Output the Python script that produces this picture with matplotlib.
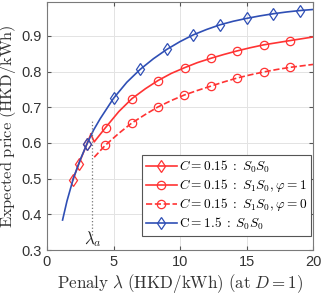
import matplotlib
matplotlib.use("Agg")
import matplotlib.pyplot as plt
import numpy as np

plt.rcParams['mathtext.fontset'] = 'cm'
plt.rcParams['font.family'] = ['Liberation Sans', 'DejaVu Sans']

# C=1.5 : S0S0 (blue)
blue_x = [1.17, 1.5, 2.0, 2.5, 3.0, 3.5, 4.0, 5.0, 6.0, 7.0, 8.0, 9.0, 10.0, 11.0,
          12.0, 13.0, 14.0, 15.0, 16.0, 17.0, 18.0, 19.0, 20.0]
blue_y = [0.384, 0.437, 0.503, 0.553, 0.597, 0.636, 0.668, 0.725, 0.770, 0.806, 0.836,
          0.862, 0.884, 0.903, 0.918, 0.931, 0.941, 0.949, 0.956, 0.962, 0.967, 0.971, 0.974]
blue_mk = [3.0, 5.0, 7.0, 9.0, 11.0, 13.0, 15.0, 17.0, 19.0]

# C=0.15 : S0S0 (red, diamonds)
s00_x = [1.93, 2.4, 3.0, 3.3]
s00_y = [0.495, 0.542, 0.597, 0.625]
s00_mk = [1.93, 2.4, 3.0]

# C=0.15 : S1S0, phi=1 (red solid, circles)
p1_x = [3.3, 3.55, 4.4, 5.4, 6.38, 7.4, 8.35, 9.35, 10.35, 11.3, 12.3, 13.3, 14.3,
        15.3, 16.3, 17.3, 18.3, 20.0]
p1_y = [0.625, 0.603, 0.643, 0.688, 0.724, 0.752, 0.775, 0.795, 0.811, 0.825, 0.837,
        0.848, 0.858, 0.867, 0.875, 0.881, 0.887, 0.897]
p1_mk = [4.4, 6.38, 8.35, 10.35, 12.3, 14.3, 16.3, 18.3]

# C=0.15 : S1S0, phi=0 (red dashed, circles)
p0_x = [3.55, 4.37, 5.4, 6.38, 7.4, 8.35, 9.35, 10.3, 11.3, 12.3, 13.3, 14.3, 15.3,
        16.3, 17.3, 18.3, 20.0]
p0_y = [0.560, 0.593, 0.627, 0.656, 0.680, 0.701, 0.719, 0.734, 0.747, 0.759, 0.771,
        0.782, 0.791, 0.799, 0.806, 0.812, 0.820]
p0_mk = [4.37, 6.38, 8.35, 10.3, 12.3, 14.3, 16.3, 18.3]

lam_a = 3.4

red = '#ff3333'
blue = '#2f4fb5'


def mk_idx(x, mk):
    return [int(i) for i in np.where(np.isin(x, mk))[0]]


fig = plt.figure(figsize=(3.21, 2.97), dpi=100)
ax = fig.add_axes([47 / 321, 47 / 297, 266 / 321, 248 / 297])

kw = dict(lw=1.2, ms=6, mfc='none', mew=0.9)
ax.plot(s00_x, s00_y, '-', color=red, marker='d', markevery=mk_idx(s00_x, s00_mk),
        label=r'$C=0.15\;:\;S_0S_0$', **kw)
ax.plot(p1_x, p1_y, '-', color=red, marker='o', markevery=mk_idx(p1_x, p1_mk),
        label=r'$C=0.15\;:\;S_1S_0, \varphi=1$', **kw)
ax.plot(p0_x, p0_y, '--', color=red, marker='o', markevery=mk_idx(p0_x, p0_mk),
        label=r'$C=0.15\;:\;S_1S_0, \varphi=0$', **kw)
ax.plot(blue_x, blue_y, '-', color=blue, marker='d', markevery=mk_idx(blue_x, blue_mk),
        label=r'$\mathrm{C{=}1.5}\;:\;S_0S_0$', **kw)

ax.plot([lam_a, lam_a], [0.342, 0.662], ':', color='#777777', lw=0.9)
ax.text(lam_a + 0.05, 0.302, r'$\lambda_a$', ha='center', va='bottom', fontsize=12,
        color='#222222')

ax.set_xlim(0, 20)
ax.set_ylim(0.3, 0.995)
ax.set_xticks([0, 5, 10, 15, 20])
ax.set_yticks([0.3, 0.4, 0.5, 0.6, 0.7, 0.8, 0.9])
ax.grid(True, color='#e3e3e3', lw=0.7)
ax.set_axisbelow(True)
ax.tick_params(direction='in', length=3, labelsize=10.5, colors='#555555',
               labelcolor='#333333', top=True, right=True)
for s in ax.spines.values():
    s.set_color('#7a7a7a')
    s.set_linewidth(0.8)

ax.set_xlabel(r'$\mathrm{Penaly}\ \lambda\ \mathrm{(HKD/kWh)\ (at}\ D\mathrm{{=}1)}$',
              fontsize=12.2, color='#333333', labelpad=2)
ax.set_ylabel(r'$\mathrm{Expected\ price\ (HKD/kWh)}$', fontsize=11.8, color='#333333',
              va='center')
ax.yaxis.set_label_coords(-38.5 / 266, 0.5)

leg = ax.legend(loc='lower right', bbox_to_anchor=(1.0, 0.05), fontsize=9.6,
                handlelength=2.3, handletextpad=0.15, borderpad=0.3, labelspacing=0.15,
                fancybox=False, framealpha=1, edgecolor='#555555', borderaxespad=0.15)
leg.get_frame().set_linewidth(0.8)

fig.savefig('out.png', dpi=100)
